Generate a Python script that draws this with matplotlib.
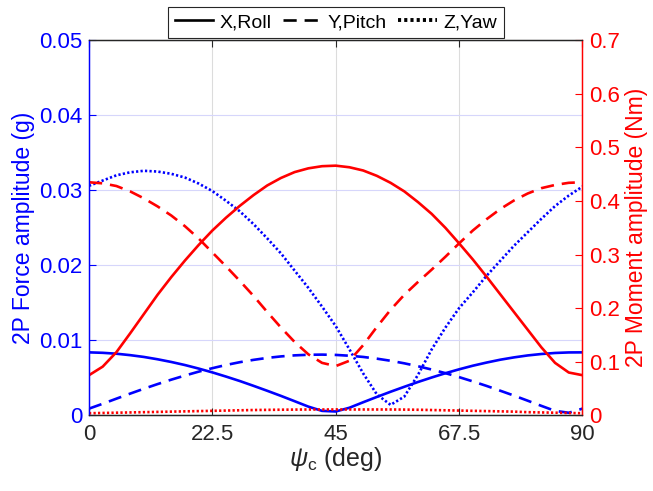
import numpy as np
import matplotlib.pyplot as plt

plt.rcParams['font.family'] = ['Liberation Sans', 'DejaVu Sans']
plt.rcParams['mathtext.fontset'] = 'custom'
plt.rcParams['mathtext.rm'] = 'Liberation Sans'
plt.rcParams['mathtext.it'] = 'Liberation Sans:italic'

# clocking angle (deg)
psi = np.arange(0, 90.01, 2.5)

# 2P force amplitudes (g)
force_x = [0.0084, 0.00834, 0.00822, 0.00803, 0.00779, 0.00748, 0.00712, 0.00671,
           0.00624, 0.00573, 0.00517, 0.00458, 0.00394, 0.00328, 0.00260, 0.00189,
           0.00117, 0.00060, 0.00052, 0.00102, 0.00175, 0.00246, 0.00315, 0.00381,
           0.00445, 0.00505, 0.00562, 0.00614, 0.00662, 0.00704, 0.00742, 0.00773,
           0.00799, 0.00818, 0.00832, 0.00839, 0.0084]
force_y = [0.0009, 0.00155, 0.00223, 0.00290, 0.00355, 0.00417, 0.00476, 0.00531,
           0.00583, 0.00629, 0.00672, 0.00709, 0.00740, 0.00766, 0.00786, 0.00800,
           0.00808, 0.00810, 0.00806, 0.00795, 0.00779, 0.00756, 0.00728, 0.00694,
           0.00655, 0.00611, 0.00563, 0.00510, 0.00453, 0.00393, 0.00329, 0.00264,
           0.00196, 0.00127, 0.00060, 0.00035, 0.00090]
force_z = [0.0306, 0.0313, 0.0320, 0.0324, 0.0326, 0.0325, 0.0322, 0.0317,
           0.0309, 0.0299, 0.0286, 0.0272, 0.0255, 0.0236, 0.0216, 0.0193,
           0.0170, 0.0145, 0.0119, 0.0088, 0.0056, 0.0028, 0.0014, 0.0025,
           0.0054, 0.0088, 0.0117, 0.0143, 0.0164, 0.0186, 0.0206, 0.0226,
           0.0244, 0.0262, 0.0279, 0.0293, 0.0305]

# 2P moment amplitudes (Nm)
moment_x = [0.075, 0.091, 0.118, 0.153, 0.189, 0.225, 0.258, 0.289,
            0.318, 0.345, 0.369, 0.391, 0.411, 0.429, 0.443, 0.454,
            0.461, 0.465, 0.466, 0.463, 0.457, 0.447, 0.434, 0.418,
            0.398, 0.376, 0.350, 0.321, 0.291, 0.259, 0.226, 0.193,
            0.160, 0.127, 0.098, 0.080, 0.075]
moment_y = [0.435, 0.433, 0.428, 0.418, 0.405, 0.390, 0.373, 0.353,
            0.330, 0.304, 0.278, 0.251, 0.223, 0.193, 0.164, 0.137,
            0.114, 0.098, 0.092, 0.102, 0.131, 0.165, 0.197, 0.225,
            0.249, 0.272, 0.296, 0.321, 0.345, 0.366, 0.385, 0.401,
            0.414, 0.424, 0.430, 0.434, 0.435]
moment_z = [0.004, 0.0045, 0.005, 0.0055, 0.006, 0.0065, 0.007, 0.0075,
            0.008, 0.0085, 0.009, 0.0095, 0.010, 0.0103, 0.0106, 0.0108,
            0.011, 0.011, 0.011, 0.011, 0.011, 0.011, 0.011, 0.0108,
            0.0105, 0.010, 0.0095, 0.009, 0.0085, 0.008, 0.0075, 0.007,
            0.006, 0.0055, 0.005, 0.0045, 0.004]

x_ticks = [0, 22.5, 45, 67.5, 90]
force_ticks = [0, 0.01, 0.02, 0.03, 0.04, 0.05]
moment_ticks = [0, 0.1, 0.2, 0.3, 0.4, 0.5, 0.6, 0.7]

blue = '#0000ff'
red = '#ff0000'
axis_gray = '#262626'
lw = 1.9
dashed = (0, (5, 3))
dotted = (0, (0.85, 0.85))

fig = plt.figure(figsize=(6.53, 4.91), dpi=100)
ax = fig.add_axes([0.1363, 0.154, 0.7557, 0.764])
ax2 = ax.twinx()

ax.plot(psi, force_x, color=blue, lw=lw, ls='-')
ax.plot(psi, force_y, color=blue, lw=lw, ls=dashed)
ax.plot(psi, force_z, color=blue, lw=lw, ls=dotted)
ax2.plot(psi, moment_x, color=red, lw=lw, ls='-')
ax2.plot(psi, moment_y, color=red, lw=lw, ls=dashed)
ax2.plot(psi, moment_z, color=red, lw=lw, ls=dotted)

ax.set_xlim(0, 90)
ax.set_ylim(0, 0.05)
ax2.set_ylim(0, 0.7)
ax.set_xticks(x_ticks)
ax.set_xticklabels(['0', '22.5', '45', '67.5', '90'])
ax.set_yticks(force_ticks)
ax.set_yticklabels(['0', '0.01', '0.02', '0.03', '0.04', '0.05'])
ax2.set_yticks(moment_ticks)
ax2.set_yticklabels(['0', '0.1', '0.2', '0.3', '0.4', '0.5', '0.6', '0.7'])

# grid: gray vertical lines, faint blue horizontal lines
ax.xaxis.grid(True, color='#dcdcdc', lw=0.8)
ax.yaxis.grid(True, color='#d6d6fb', lw=0.8)
ax.set_axisbelow(True)

ax.tick_params(axis='x', direction='in', top=True, length=5, width=0.8,
               colors=axis_gray, labelsize=16, pad=6)
ax.tick_params(axis='y', direction='in', length=5, width=0.8,
               colors=blue, labelsize=16, pad=5)
ax2.tick_params(axis='y', direction='in', length=5, width=0.8,
                colors=red, labelsize=16, pad=5)

for a in (ax, ax2):
    a.spines['top'].set_color(axis_gray)
    a.spines['bottom'].set_color(axis_gray)
    a.spines['left'].set_color(blue)
    a.spines['right'].set_color(red)
    for s in a.spines.values():
        s.set_linewidth(0.9)

ax.set_xlabel(r'$\psi_{\rm c}$ (deg)', fontsize=18, color=axis_gray, labelpad=0)
ax.set_ylabel('2P Force amplitude (g)', fontsize=16.5, color=blue, labelpad=3)
ax2.set_ylabel('2P Moment amplitude (Nm)', fontsize=16.5, color=red, labelpad=3)

# legend with black line styles
handles = [
    plt.Line2D([], [], color='black', lw=lw, ls='-'),
    plt.Line2D([], [], color='black', lw=lw, ls=dashed),
    plt.Line2D([], [], color='black', lw=2.8, ls=(0, (0.8, 0.8))),
]
leg = ax.legend(handles, ['X,Roll', 'Y,Pitch', 'Z,Yaw'], ncol=3,
                loc='lower center', bbox_to_anchor=(0.5, 1.006),
                fontsize=14, frameon=True, fancybox=False,
                handlelength=2.0, handletextpad=0.3, columnspacing=0.6,
                borderpad=0.35, borderaxespad=0)
leg.get_frame().set_edgecolor(axis_gray)
leg.get_frame().set_linewidth(0.8)
leg.get_frame().set_alpha(1)

fig.savefig('out.png', dpi=100)
